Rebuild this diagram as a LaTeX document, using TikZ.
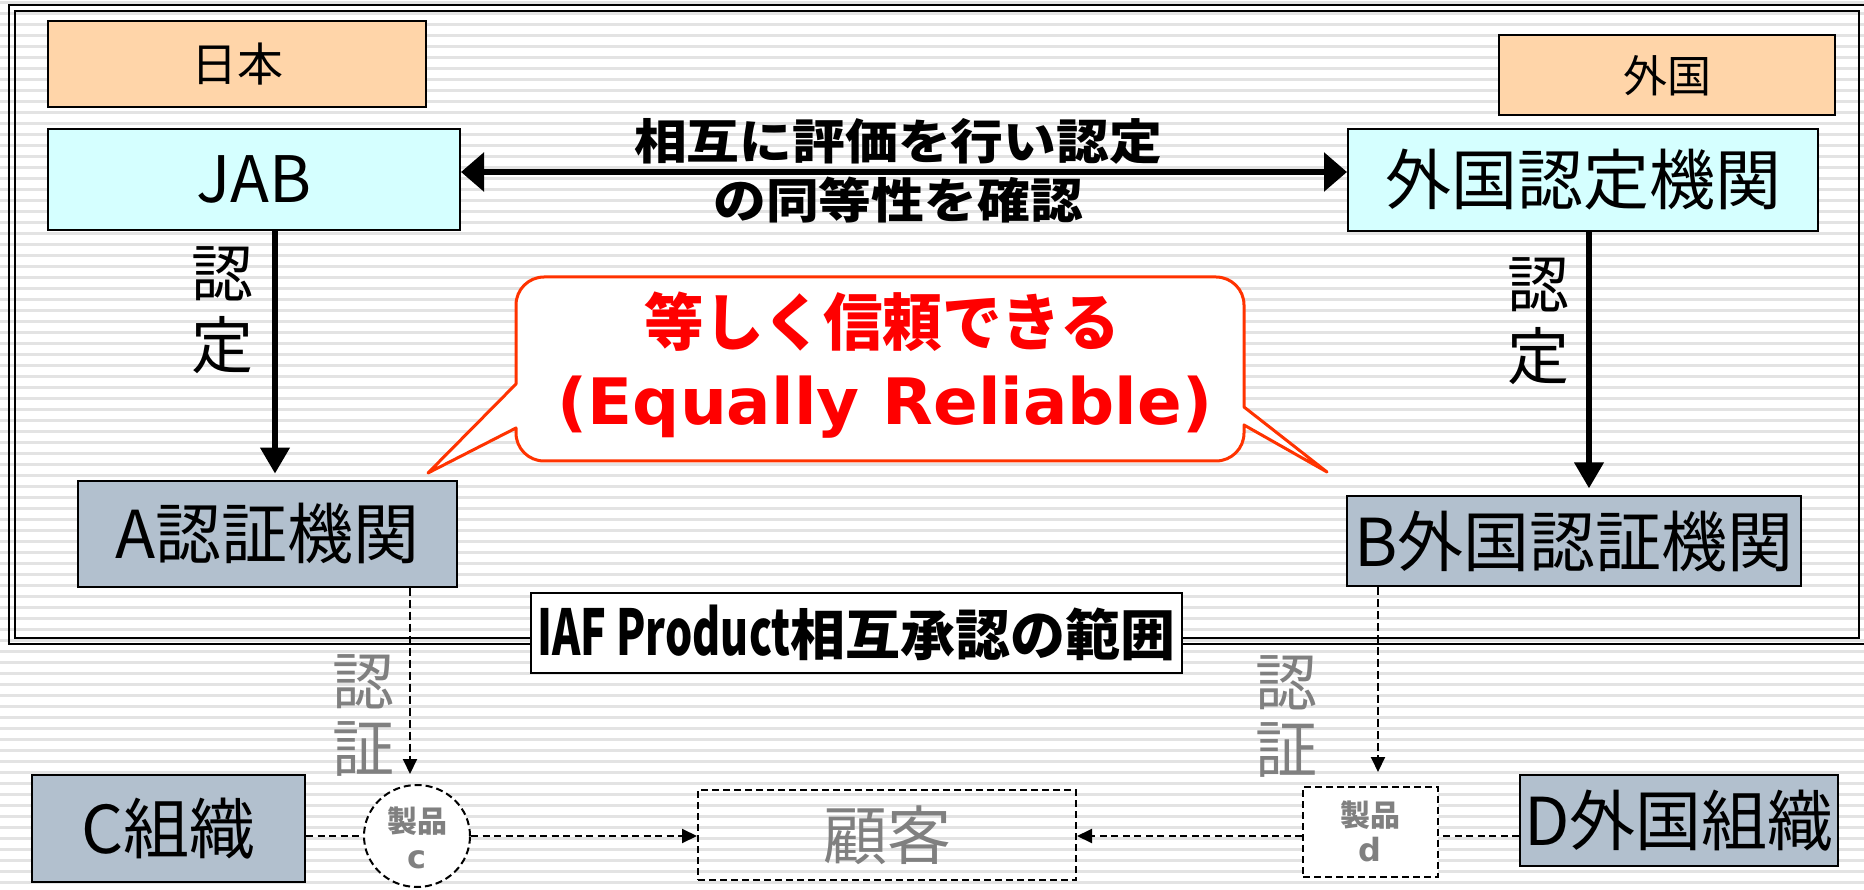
\documentclass[tikz,border=0pt]{standalone}
\usepackage{fontspec}
\usepackage{graphicx}
\usetikzlibrary{arrows.meta,shapes.geometric}
\newfontfamily\jp{Noto Sans CJK JP}
\newfontfamily\dv{DejaVu Sans}
\definecolor{peach}{HTML}{FFD5A9}
\definecolor{cyanbg}{HTML}{D5FFFF}
\definecolor{grayblue}{HTML}{B2C0CE}
\definecolor{stripe}{HTML}{E3E3E3}
\definecolor{calloutred}{HTML}{FF3300}
\definecolor{txtgray}{HTML}{808080}
\begin{document}
\begin{tikzpicture}[x=1pt,y=-1pt,
  box/.style={draw=black,line width=2pt,inner sep=0pt,rectangle},
  landbox/.style={box,fill=peach,font=\jp\fontsize{46}{54}\selectfont},
  abbox/.style={box,fill=cyanbg,font=\jp\fontsize{66}{76}\selectfont},
  cbbox/.style={box,fill=grayblue,font=\jp\fontsize{66}{76}\selectfont},
  dashbox/.style={draw=black,line width=2pt,dash pattern=on 7pt off 4pt,inner sep=0pt},
  vlabel/.style={inner sep=0pt,align=center,font=\jp\fontsize{62}{72}\selectfont},
  glabel/.style={inner sep=0pt,align=center,text=txtgray,font=\jp\fontsize{62}{67}\selectfont},
  thickarrow/.style={line width=6.5pt,-{Triangle[length=26pt,width=28pt]}},
  botharrow/.style={line width=6pt,{Triangle[length=23pt,width=38pt]}-{Triangle[length=23pt,width=38pt]}},
  dashline/.style={line width=2pt,dash pattern=on 7pt off 4.5pt},
  dasharrow/.style={dashline,-{Triangle[length=15pt,width=14pt]}},
  callout/.style={draw=calloutred,line width=3pt,fill=white,line join=round}
]
\useasboundingbox (0,0) rectangle (1864,890);
\fill[white] (0,0) rectangle (1864,890);
\foreach \k in {0,...,80} {\fill[stripe] (0,{1+11*\k}) rectangle (1864,{4+11*\k});}

% double frame
\draw[line width=2.5pt] (9,5) rectangle (1866,644);
\draw[line width=2pt] (15,11) rectangle (1859,638);

% country labels
\node[landbox,minimum width=378pt,minimum height=86pt] (jp) at (237,64) {日本};
\node[landbox,minimum width=336pt,minimum height=80pt,font=\jp\fontsize{44}{52}\selectfont] (fr) at (1667,75.5) {外国};

% accreditation bodies
\node[abbox,minimum width=412pt,minimum height=101pt,font=\jp\fontsize{64}{74}\selectfont] (jab) at (254,179.5) {JAB};
\node[abbox,minimum width=470pt,minimum height=102pt] (frab) at (1583,179.7) {外国認定機関};

% certification bodies
\node[cbbox,minimum width=379pt,minimum height=106pt] (acb) at (267.5,533.7) {A認証機関};
\node[cbbox,minimum width=454pt,minimum height=90pt] (bcb) at (1574,541) {B外国認証機関};

% organisations
\node[cbbox,minimum width=273pt,minimum height=107pt] (corg) at (168.5,828.5) {C組織};
\node[cbbox,minimum width=318pt,minimum height=91pt] (dorg) at (1679,820.5) {D外国組織};

% IAF scope box
\node[draw=black,line width=2.5pt,fill=white,inner sep=0pt,minimum width=651pt,minimum height=80pt,
      font=\jp\bfseries\fontsize{55}{64}\selectfont] (iaf) at (856.5,633)
      {\scalebox{0.78}[1.15]{IAF Product}相互承認の範囲};

% products and customer
\node[dashbox,ellipse,fill=white,minimum width=106pt,minimum height=102pt] (pc) at (417,836) {};
\node[text=txtgray,inner sep=0pt,font=\jp\bfseries\fontsize{30}{34}\selectfont] (pcl1) at (417,821) {製品};
\node[text=txtgray,inner sep=0pt,font=\dv\bfseries\fontsize{32}{36}\selectfont] (pcl2) at (417,860) {c};

\node[dashbox,minimum width=378pt,minimum height=90pt,text=txtgray,font=\jp\fontsize{64}{74}\selectfont] (cust) at (887,835) {顧客};

\node[dashbox,fill=white,minimum width=135pt,minimum height=90pt] (pd) at (1370.7,832) {};
\node[text=txtgray,inner sep=0pt,font=\jp\bfseries\fontsize{30}{34}\selectfont] (pdl1) at (1370,815) {製品};
\node[text=txtgray,inner sep=0pt,font=\dv\bfseries\fontsize{32}{36}\selectfont] (pdl2) at (1370,850) {d};

% helper coordinates
\coordinate (ay) at (0,172);
\coordinate (ax) at (275,0);
\coordinate (bx) at (1589,0);
\coordinate (cx) at (410,0);
\coordinate (dx) at (1378,0);
\coordinate (hy) at (0,836);

% mutual recognition arrow and label
\draw[botharrow] (jab.east |- ay) -- (frab.west |- ay);
\node[inner sep=0pt,align=center,font=\jp\bfseries\fontsize{48}{59}\selectfont] (mra) at (898,170.5)
  {\scalebox{1.1}[1]{相互に評価を行い認定}\\\scalebox{1.1}[1]{の同等性を確認}};

% accreditation arrows
\draw[thickarrow,shorten >=6pt] (jab.south -| ax) -- (acb.north -| ax);
\draw[thickarrow,shorten >=6.5pt] (frab.south -| bx) -- (bcb.north -| bx);
\node[vlabel] (acc1) at (222,310) {認\\定};
\node[vlabel] (acc2) at (1538,321) {認\\定};

% certification arrows
\draw[dasharrow,dash pattern=on 8pt off 4pt,shorten >=10pt] (acb.south -| cx) -- (pc.north -| cx);
\draw[dasharrow,dash pattern=on 8pt off 4pt,shorten >=14pt] (bcb.south -| dx) -- (pd.north -| dx);
\node[glabel] (cert1) at (363,715) {認\\証};
\node[glabel] (cert2) at (1286,716) {認\\証};

% product flows
\draw[dashline] (corg.east |- hy) -- (pc.west |- hy);
\draw[dasharrow] (pc.east |- hy) -- (cust.west |- hy);
\draw[dasharrow] (pd.west |- hy) -- (cust.east |- hy);
\draw[dashline] (dorg.west |- hy) -- (pd.east |- hy);

% callout
\draw[callout] (544,277) -- (1216,277) arc[start angle=-90,end angle=0,radius=28]
  -- (1244,407) -- (1327,472) -- (1244,425) -- (1244,433)
  arc[start angle=0,end angle=90,radius=28] -- (544,461)
  arc[start angle=90,end angle=180,radius=28] -- (516,428) -- (428,473) -- (516,384)
  -- (516,305) arc[start angle=180,end angle=270,radius=28] -- cycle;
\node[inner sep=0pt,text=red,font=\jp\bfseries\fontsize{62}{70}\selectfont] (eq1) at (882,322) {\scalebox{0.96}[1]{等しく信頼できる}};
\node[inner sep=0pt,text=red,font=\dv\bfseries\fontsize{64}{72}\selectfont] (eq2) at (885,407)
  {\scalebox{1.03}[1]{(Equally Reliable)}};
\end{tikzpicture}
\end{document}
